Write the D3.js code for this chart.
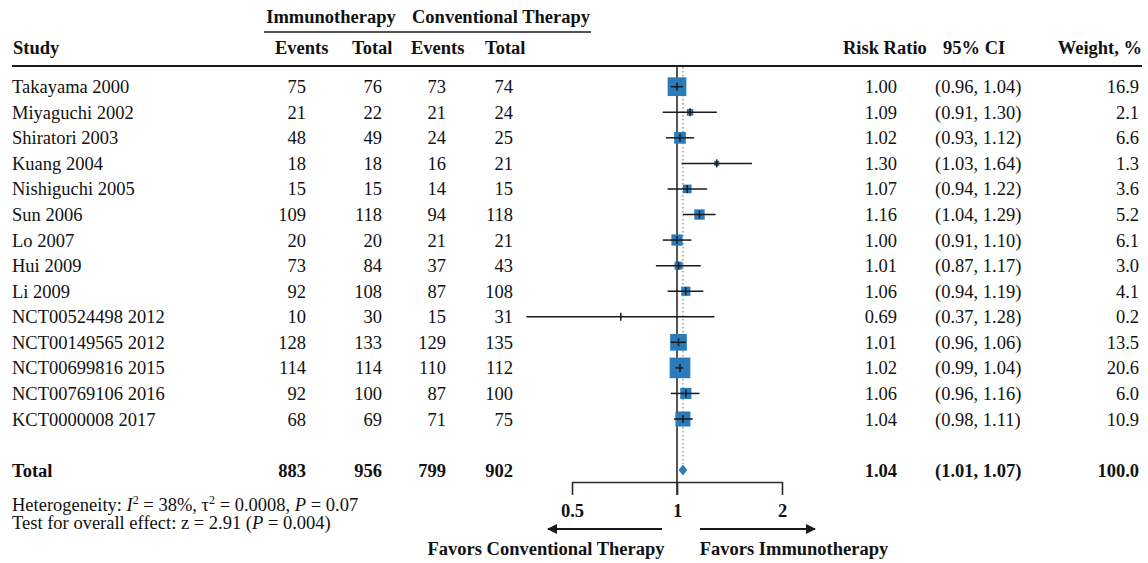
<!DOCTYPE html>
<html>
<head>
<meta charset="utf-8">
<script src="https://cdn.jsdelivr.net/npm/d3@7"></script>
<style>
  html, body { margin: 0; padding: 0; background: #fff; }
  svg text { font-family: "Liberation Serif", "Times New Roman", serif; fill: #111; }
</style>
</head>
<body>
<svg id="chart" width="1148" height="563"></svg>
<script>
// Study-level data
const studies = ["Takayama 2000", "Miyaguchi 2002", "Shiratori 2003", "Kuang 2004", "Nishiguchi 2005",
  "Sun 2006", "Lo 2007", "Hui 2009", "Li 2009", "NCT00524498 2012", "NCT00149565 2012",
  "NCT00699816 2015", "NCT00769106 2016", "KCT0000008 2017"];
const immEvents  = [75, 21, 48, 18, 15, 109, 20, 73, 92, 10, 128, 114, 92, 68];
const immTotal   = [76, 22, 49, 18, 15, 118, 20, 84, 108, 30, 133, 114, 100, 69];
const convEvents = [73, 21, 24, 16, 14, 94, 21, 37, 87, 15, 129, 110, 87, 71];
const convTotal  = [74, 24, 25, 21, 15, 118, 21, 43, 108, 31, 135, 112, 100, 75];
const riskRatio  = [1.00, 1.09, 1.02, 1.30, 1.07, 1.16, 1.00, 1.01, 1.06, 0.69, 1.01, 1.02, 1.06, 1.04];
const ciLow      = [0.96, 0.91, 0.93, 1.03, 0.94, 1.04, 0.91, 0.87, 0.94, 0.37, 0.96, 0.99, 0.96, 0.98];
const ciHigh     = [1.04, 1.30, 1.12, 1.64, 1.22, 1.29, 1.10, 1.17, 1.19, 1.28, 1.06, 1.04, 1.16, 1.11];
const weights    = [16.9, 2.1, 6.6, 1.3, 3.6, 5.2, 6.1, 3.0, 4.1, 0.2, 13.5, 20.6, 6.0, 10.9];

// Pooled estimate
const totalCounts = [883, 956, 799, 902];
const pooled = { rr: 1.04, low: 1.01, high: 1.07, weight: 100.0 };

// Axis ticks
const axisTicks = [0.5, 1, 2];
const axisTickLabels = ["0.5", "1", "2"];

const svg = d3.select("#chart");
const blue = "#2b7bbb";
const ink = "#1a1a1a";
const fs = 18.5;

const x = d3.scaleLog().domain([0.5, 2]).range([572, 782]);
const y = d3.scalePoint().domain(d3.range(studies.length)).range([86.7, 419]);
const totalY = 470;
const fmt2 = d3.format(".2f");
const fmt1 = d3.format(".1f");

function txt(g, xx, yy, s, opts = {}) {
  return g.append("text")
    .attr("x", xx).attr("y", yy)
    .attr("text-anchor", opts.anchor || "start")
    .attr("font-size", opts.size || fs)
    .attr("font-weight", opts.bold ? "bold" : "normal")
    .text(s);
}

// ---- Header ----
const head = svg.append("g");
txt(head, 331, 23, "Immunotherapy", { anchor: "middle", bold: true });
txt(head, 501, 23, "Conventional Therapy", { anchor: "middle", bold: true });
head.append("line").attr("x1", 264).attr("x2", 591).attr("y1", 32).attr("y2", 32)
  .attr("stroke", ink).attr("stroke-width", 1.6);
txt(head, 13, 54, "Study", { bold: true });
txt(head, 275, 54, "Events", { bold: true });
txt(head, 352, 54, "Total", { bold: true });
txt(head, 411, 54, "Events", { bold: true });
txt(head, 485, 54, "Total", { bold: true });
txt(head, 843, 54, "Risk Ratio", { bold: true });
txt(head, 943, 54, "95% CI", { bold: true });
txt(head, 1142, 54, "Weight, %", { bold: true, anchor: "end" });
head.append("line").attr("x1", 12).attr("x2", 1142).attr("y1", 66).attr("y2", 66)
  .attr("stroke", ink).attr("stroke-width", 2);

// ---- Table columns ----
const tbl = svg.append("g");
const colRight = [306, 382, 446, 513];
const countCols = [immEvents, immTotal, convEvents, convTotal];
studies.forEach((s, i) => {
  const base = y(i) + 6.5;
  txt(tbl, 12, base, s);
  countCols.forEach((col, c) => txt(tbl, colRight[c], base, col[i], { anchor: "end" }));
  txt(tbl, 897, base, fmt2(riskRatio[i]), { anchor: "end" });
  txt(tbl, 935, base, `(${fmt2(ciLow[i])}, ${fmt2(ciHigh[i])})`);
  txt(tbl, 1139, base, fmt1(weights[i]), { anchor: "end" });
});
const tb = totalY + 6.5;
txt(tbl, 12, tb, "Total", { bold: true });
totalCounts.forEach((v, c) => txt(tbl, colRight[c], tb, v, { anchor: "end", bold: true }));
txt(tbl, 897, tb, fmt2(pooled.rr), { anchor: "end", bold: true });
txt(tbl, 935, tb, `(${fmt2(pooled.low)}, ${fmt2(pooled.high)})`, { bold: true });
txt(tbl, 1139, tb, fmt1(pooled.weight), { anchor: "end", bold: true });

// ---- Forest plot ----
const plot = svg.append("g");
// dotted line at pooled estimate
plot.append("line").attr("x1", x(pooled.rr)).attr("x2", x(pooled.rr))
  .attr("y1", 67).attr("y2", totalY - 6)
  .attr("stroke", "#8a8a8a").attr("stroke-width", 1.3).attr("stroke-dasharray", "1.5,2.5");
// null line
plot.append("line").attr("x1", x(1)).attr("x2", x(1))
  .attr("y1", 66).attr("y2", 495)
  .attr("stroke", "#2a2a2a").attr("stroke-width", 1.6);

const side = w => 4.55 * Math.sqrt(w);
const rows = plot.selectAll("g.study").data(studies.map((s, i) => i)).join("g").attr("class", "study");
rows.append("rect")
  .attr("x", i => x(riskRatio[i]) - side(weights[i]) / 2)
  .attr("y", i => y(i) - side(weights[i]) / 2)
  .attr("width", i => side(weights[i]))
  .attr("height", i => side(weights[i]))
  .attr("fill", blue);
rows.append("line")
  .attr("x1", i => x(ciLow[i])).attr("x2", i => x(ciHigh[i]))
  .attr("y1", i => y(i)).attr("y2", i => y(i))
  .attr("stroke", ink).attr("stroke-width", 1.5);
rows.append("line")
  .attr("x1", i => x(riskRatio[i])).attr("x2", i => x(riskRatio[i]))
  .attr("y1", i => y(i) - 4).attr("y2", i => y(i) + 4)
  .attr("stroke", ink).attr("stroke-width", 1.5);

// pooled diamond
const dh = 5.5;
plot.append("path")
  .attr("d", `M${x(pooled.low)},${totalY} L${x(pooled.rr)},${totalY - dh} L${x(pooled.high)},${totalY} L${x(pooled.rr)},${totalY + dh} Z`)
  .attr("fill", blue);

// ---- Axis ----
const axisY = 482;
const axis = d3.axisBottom(x).tickValues(axisTicks).tickFormat((d, i) => axisTickLabels[i])
  .tickSize(13).tickSizeOuter(0);
const ag = svg.append("g").attr("transform", `translate(0,${axisY})`).call(axis);
ag.select(".domain").attr("stroke", "#2a2a2a").attr("stroke-width", 1.6);
ag.selectAll(".tick line").attr("stroke", "#2a2a2a").attr("stroke-width", 1.6);
ag.selectAll(".tick text")
  .attr("font-family", "Liberation Serif, Times New Roman, serif")
  .attr("font-size", fs).attr("font-weight", "bold").attr("fill", "#111")
  .attr("dy", null).attr("y", 35);

// direction arrows
const defs = svg.append("defs");
defs.append("marker").attr("id", "arrowhead").attr("viewBox", "0 0 10 10")
  .attr("refX", 9).attr("refY", 5).attr("markerWidth", 14).attr("markerHeight", 10)
  .attr("markerUnits", "userSpaceOnUse").attr("orient", "auto")
  .append("path").attr("d", "M0,0 L10,5 L0,10 Z").attr("fill", ink);
const arrowY = 529;
svg.append("line").attr("x1", 662).attr("x2", 548).attr("y1", arrowY).attr("y2", arrowY)
  .attr("stroke", ink).attr("stroke-width", 1.8).attr("marker-end", "url(#arrowhead)");
svg.append("line").attr("x1", 700).attr("x2", 815).attr("y1", arrowY).attr("y2", arrowY)
  .attr("stroke", ink).attr("stroke-width", 1.8).attr("marker-end", "url(#arrowhead)");
txt(svg, 546, 555, "Favors Conventional Therapy", { anchor: "middle", bold: true });
txt(svg, 794, 555, "Favors Immunotherapy", { anchor: "middle", bold: true });

// ---- Footnote ----
const fsz = 18.5;
const sup = 12;
const f1 = svg.append("text").attr("x", 12).attr("y", 511).attr("font-size", fsz);
f1.append("tspan").text("Heterogeneity: ");
f1.append("tspan").attr("font-style", "italic").text("I");
f1.append("tspan").attr("font-size", sup).attr("dy", -7).text("2");
f1.append("tspan").attr("dy", 7).text(" = 38%, τ");
f1.append("tspan").attr("font-size", sup).attr("dy", -7).text("2");
f1.append("tspan").attr("dy", 7).text("  = 0.0008, ");
f1.append("tspan").attr("font-style", "italic").text("P");
f1.append("tspan").text(" = 0.07");
const f2 = svg.append("text").attr("x", 12).attr("y", 529).attr("font-size", fsz);
f2.append("tspan").text("Test for overall effect: z = 2.91 (");
f2.append("tspan").attr("font-style", "italic").text("P");
f2.append("tspan").text(" = 0.004)");
</script>
</body>
</html>
